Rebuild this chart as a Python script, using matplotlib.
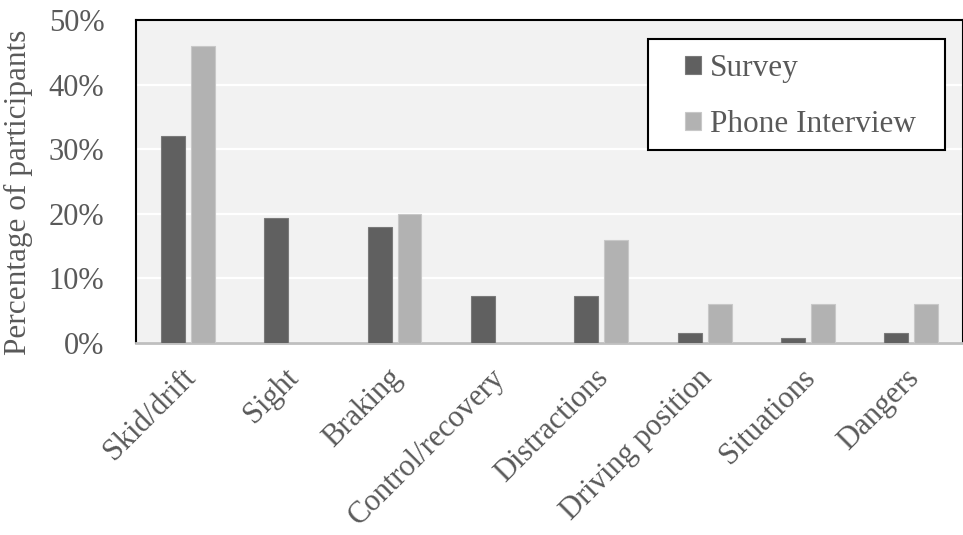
import matplotlib
matplotlib.use("Agg")
import matplotlib.pyplot as plt
import numpy as np
from matplotlib.ticker import PercentFormatter
from matplotlib.transforms import ScaledTranslation
from matplotlib.patches import Rectangle

categories = ["Skid/drift", "Sight", "Braking", "Control/recovery", "Distractions",
              "Driving position", "Situations", "Dangers"]
survey = [32.1, 19.3, 17.9, 7.3, 7.3, 1.5, 0.7, 1.5]
phone = [46.0, 0.0, 20.0, 0.0, 16.0, 6.0, 6.0, 6.0]
yticks = [0, 10, 20, 30, 40, 50]

plt.rcParams['font.family'] = ['Liberation Serif', 'DejaVu Serif']
txt = '#595959'

fig = plt.figure(figsize=(9.63, 5.35), dpi=100)
ax = fig.add_axes([0.1415, 0.359, 0.8585, 0.6036])
ax.set_facecolor('#F2F2F2')

x = np.arange(len(categories))
w = 0.23
off = 0.145
ax.bar(x - off, survey, w, color='#606060', edgecolor='#7a7a7a', linewidth=0.8,
       label='Survey', zorder=3)
ax.bar(x + off, phone, w, color='#B2B2B2', edgecolor='#c8c8c8', linewidth=0.8,
       label='Phone Interview', zorder=3)

ax.set_xlim(-0.5, len(categories) - 0.5)
ax.set_ylim(0, 50)
ax.set_yticks(yticks)
ax.yaxis.set_major_formatter(PercentFormatter(decimals=0))
ax.grid(axis='y', color='white', linewidth=1.6, zorder=0)
ax.set_axisbelow(True)

for s in ['left', 'top', 'right']:
    ax.spines[s].set_color('black')
    ax.spines[s].set_linewidth(1.5)
ax.spines['bottom'].set_color('#BFBFBF')
ax.spines['bottom'].set_linewidth(2)

ax.tick_params(axis='both', length=0, labelsize=22, colors=txt)
ax.tick_params(axis='y', pad=23)
ax.set_xticks(x)
ax.set_xticklabels(categories, rotation=45, ha='right', va='center',
                   rotation_mode='anchor')
ax.tick_params(axis='x', pad=22)
shift = ScaledTranslation(3 / 100, 0, fig.dpi_scale_trans)
for lbl in ax.get_xticklabels():
    lbl.set_transform(lbl.get_transform() + shift)

ax.set_ylabel('Percentage of participants', fontsize=22.5, color=txt)
ax.yaxis.set_label_coords(-0.1244, 0.467)

# legend box
ax.add_patch(Rectangle((0.6184, 0.5975), 0.978 - 0.6184, 0.941 - 0.5975,
                       transform=ax.transAxes, facecolor='white',
                       edgecolor='black', linewidth=1.5, zorder=4))
leg = ax.legend(loc='upper left', bbox_to_anchor=(0.664, 0.895), fontsize=22.5,
                frameon=False, handlelength=0.49, handleheight=0.49,
                handletextpad=0.29, borderpad=0, labelspacing=0.865,
                borderaxespad=0)
leg.set_zorder(5)
for t in leg.get_texts():
    t.set_color(txt)

fig.savefig('out.png', dpi=100)
